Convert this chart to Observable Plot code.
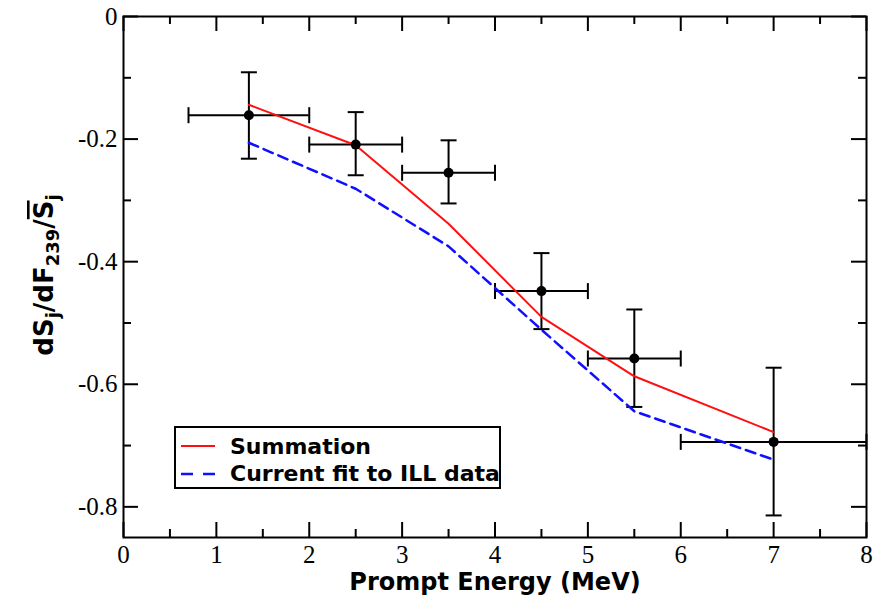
<!DOCTYPE html>
<html><head><meta charset="utf-8">
<script src="https://cdn.jsdelivr.net/npm/d3@7"></script>
<script src="https://cdn.jsdelivr.net/npm/@observablehq/plot@0.6"></script>
<style>body{margin:0;background:#fff} #chart{width:875px;height:601px}</style>
</head><body><div id="chart"></div>
<script>
// ---- data ----
const energy    = [1.35, 2.5, 3.5, 4.5, 5.5, 7.0];
const measured  = [-0.161, -0.209, -0.255, -0.448, -0.558, -0.694];
const binLow    = [0.7, 2.0, 3.0, 4.0, 5.0, 6.0];
const binHigh   = [2.0, 3.0, 4.0, 5.0, 6.0, 8.0];
const errTop    = [-0.091, -0.156, -0.202, -0.386, -0.478, -0.573];
const errBottom = [-0.232, -0.259, -0.305, -0.510, -0.637, -0.814];
const summation = [-0.144, -0.210, -0.338, -0.490, -0.587, -0.678];
const illFit    = [-0.206, -0.281, -0.375, -0.511, -0.644, -0.723];
const xMajor = [0, 1, 2, 3, 4, 5, 6, 7, 8];
const xMinor = [0.5, 1.5, 2.5, 3.5, 4.5, 5.5, 6.5, 7.5];
const yMajor = [0, -0.2, -0.4, -0.6, -0.8];
const yMinor = [-0.1, -0.3, -0.5, -0.7];
const seriesNames = ["Summation", "Current fit to ILL data"];
const xLabel = "Prompt Energy (MeV)";

// ---- table for the library ----
const table = energy.map((e, i) => ({
  energy: e, measured: measured[i], binLow: binLow[i], binHigh: binHigh[i],
  errTop: errTop[i], errBottom: errBottom[i], sum: summation[i], ill: illFit[i]
}));

const W = 875, H = 601, mL = 123, mR = 9, mT = 16, mB = 64;
const fw = W - mL - mR, fh = H - mT - mB;
const majorLen = 15, minorLen = 8;

const hcap = {draw(ctx, size) { const r = Math.sqrt(size / Math.PI); ctx.moveTo(-r, 0); ctx.lineTo(r, 0); }};
const vcap = {draw(ctx, size) { const r = Math.sqrt(size / Math.PI); ctx.moveTo(0, -r); ctx.lineTo(0, r); }};

const sans = "DejaVu Sans, Liberation Sans, Arial, sans-serif";
const serif = "Liberation Serif, Times New Roman, serif";

const plot = Plot.plot({
  width: W, height: H,
  marginLeft: mL, marginRight: mR, marginTop: mT, marginBottom: mB,
  x: {domain: [0, 8]},
  y: {domain: [-0.85, 0]},
  style: {fontFamily: serif, fontSize: "25px", color: "black", background: "white", overflow: "visible"},
  marks: [
    Plot.axisX(xMajor, {tickSize: 0, tickPadding: 8, tickFormat: d => String(d), label: null, fontFamily: serif, fontSize: 25}),
    Plot.axisY(yMajor, {tickSize: 0, tickPadding: 6, tickFormat: d => d === 0 ? "0" : d.toFixed(1), label: null, fontFamily: serif, fontSize: 25}),
    // inward ticks on all four sides
    Plot.tickX(xMajor, {x: d => d, insetTop: fh - majorLen, strokeWidth: 2}),
    Plot.tickX(xMinor, {x: d => d, insetTop: fh - minorLen, strokeWidth: 2}),
    Plot.tickX(xMajor, {x: d => d, insetBottom: fh - majorLen, strokeWidth: 2}),
    Plot.tickX(xMinor, {x: d => d, insetBottom: fh - minorLen, strokeWidth: 2}),
    Plot.tickY(yMajor, {y: d => d, insetRight: fw - majorLen, strokeWidth: 2}),
    Plot.tickY(yMinor, {y: d => d, insetRight: fw - minorLen, strokeWidth: 2}),
    Plot.tickY(yMajor, {y: d => d, insetLeft: fw - majorLen, strokeWidth: 2}),
    Plot.tickY(yMinor, {y: d => d, insetLeft: fw - minorLen, strokeWidth: 2}),
    // error bars
    Plot.ruleX(table, {x: "energy", y1: "errBottom", y2: "errTop", stroke: "black", strokeWidth: 2}),
    Plot.ruleY(table, {y: "measured", x1: "binLow", x2: "binHigh", stroke: "black", strokeWidth: 2}),
    Plot.dot(table, {x: "energy", y: "errTop", symbol: hcap, r: 8, stroke: "black", strokeWidth: 2}),
    Plot.dot(table, {x: "energy", y: "errBottom", symbol: hcap, r: 8, stroke: "black", strokeWidth: 2}),
    Plot.dot(table, {x: "binLow", y: "measured", symbol: vcap, r: 8, stroke: "black", strokeWidth: 2}),
    Plot.dot(table, {x: "binHigh", y: "measured", symbol: vcap, r: 8, stroke: "black", strokeWidth: 2}),
    // model curves
    Plot.line(table, {x: "energy", y: "sum", stroke: "#ff1010", strokeWidth: 2}),
    Plot.line(table, {x: "energy", y: "ill", stroke: "#1010ff", strokeWidth: 2.5, strokeDasharray: "10,6"}),
    // data points
    Plot.dot(table, {x: "energy", y: "measured", r: 5, fill: "black"}),
    Plot.frame({stroke: "black", strokeWidth: 2}),
    Plot.text([xLabel], {frameAnchor: "bottom", dy: 45, lineAnchor: "middle", fontFamily: sans, fontWeight: "bold", fontSize: 24, fill: "black"})
  ]
});
document.getElementById("chart").appendChild(plot);

const svg = d3.select(plot);
// y-axis label with subscripts and overline
const yl = svg.append("text")
  .attr("transform", "translate(53,275) rotate(-90)")
  .attr("text-anchor", "middle")
  .attr("font-family", sans).attr("font-weight", "bold").attr("font-size", 26).attr("fill", "black");
yl.append("tspan").text("dS");
yl.append("tspan").attr("dy", 6).attr("font-size", 18).text("j");
yl.append("tspan").attr("dy", -6).text("/dF");
yl.append("tspan").attr("dy", 6).attr("font-size", 18).text("239");
yl.append("tspan").attr("dy", -6).text("/");
yl.append("tspan").style("text-decoration", "overline").text("S");
yl.append("tspan").attr("dy", 6).attr("font-size", 18).text("j");

// legend
const lg = svg.append("g").attr("text-anchor", "start");
lg.append("rect").attr("x", 175).attr("y", 427).attr("width", 325).attr("height", 61)
  .attr("fill", "white").attr("stroke", "black").attr("stroke-width", 2);
lg.append("line").attr("x1", 181).attr("x2", 215).attr("y1", 446).attr("y2", 446)
  .attr("stroke", "#ff1010").attr("stroke-width", 2);
lg.append("line").attr("x1", 181).attr("x2", 215).attr("y1", 474).attr("y2", 474)
  .attr("stroke", "#1010ff").attr("stroke-width", 2.5).attr("stroke-dasharray", "12,10");
lg.selectAll("text.lab").data(seriesNames).join("text")
  .attr("class", "lab")
  .attr("x", 230).attr("y", (d, i) => i === 0 ? 454 : 481)
  .attr("text-anchor", "start")
  .attr("font-family", sans).attr("font-weight", "bold").attr("font-size", 22).attr("fill", "black")
  .text(d => d);
</script>
</body></html>
